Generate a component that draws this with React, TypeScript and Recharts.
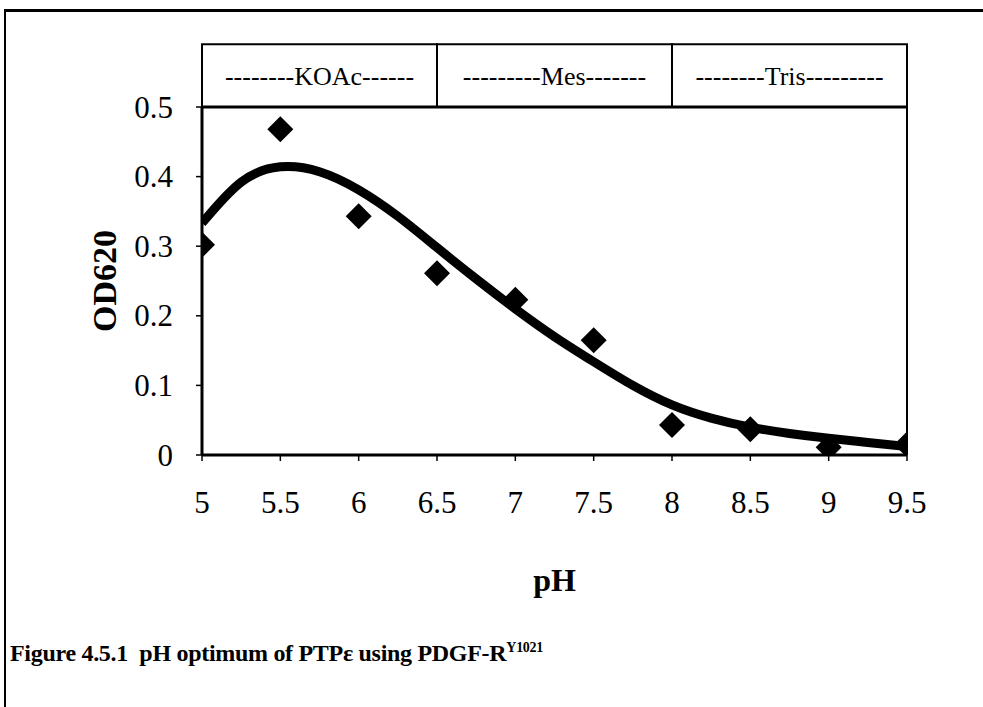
import {
  ComposedChart,
  Line,
  Scatter,
  XAxis,
  YAxis,
  ReferenceArea,
  ReferenceLine,
} from 'recharts'

// ─── Data ─────────────────────────────────────────────────────────────────────

const phTicks = [5, 5.5, 6, 6.5, 7, 7.5, 8, 8.5, 9, 9.5]
const odTicks = [0, 0.1, 0.2, 0.3, 0.4, 0.5]

// measured OD620 per pH
const measuredPh = [5, 5.5, 6, 6.5, 7, 7.5, 8, 8.5, 9, 9.5]
const measuredOd = [0.302, 0.468, 0.343, 0.261, 0.223, 0.165, 0.043, 0.037, 0.011, 0.015]

// fitted curve
const fitPh = [5, 5.25, 5.5, 5.75, 6, 6.25, 6.5, 6.75, 7, 7.25, 7.5, 7.75, 8, 8.25, 8.5, 8.75, 9, 9.25, 9.5]
const fitOd = [0.333, 0.392, 0.414, 0.407, 0.381, 0.343, 0.298, 0.253, 0.21, 0.17, 0.134, 0.1, 0.072, 0.053, 0.04, 0.031, 0.024, 0.018, 0.012]

// buffer ranges shown above the plot
const bufferLabels = ['--------KOAc------', '---------Mes-------', '--------Tris---------']
const bufferFrom = [5, 6.5, 8]
const bufferTo = [6.5, 8, 9.5]

const measured = measuredPh.map((ph, i) => ({ ph, od: measuredOd[i] }))
const fitted = fitPh.map((ph, i) => ({ ph, od: fitOd[i] }))

const SERIF = '"Liberation Serif", "Times New Roman", serif'

// ─── Shapes ───────────────────────────────────────────────────────────────────

function Diamond(props: any) {
  const { cx, cy } = props
  const r = 13
  return <path d={`M${cx},${cy - r}L${cx + r},${cy}L${cx},${cy + r}L${cx - r},${cy}Z`} fill="#000" />
}

function OdTick(props: any) {
  const { x, y, payload } = props
  return (
    <text x={x - 21} y={y} textAnchor="end" dominantBaseline="central" fontFamily={SERIF} fontSize={31} fill="#000">
      {payload.value}
    </text>
  )
}

function OdLabel(props: any) {
  const { viewBox } = props
  const x = viewBox.x + 22
  const y = viewBox.y + viewBox.height / 2
  return (
    <text
      x={x}
      y={y}
      transform={`rotate(-90, ${x}, ${y})`}
      textAnchor="middle"
      dominantBaseline="central"
      fontFamily={SERIF}
      fontWeight="bold"
      fontSize={34}
      fill="#000"
    >
      OD620
    </text>
  )
}

// ─── Component ────────────────────────────────────────────────────────────────

export default function App() {
  return (
    <div style={{ position: 'absolute', left: 0, top: 0, width: 983, height: 707, background: '#fff' }}>
      {/* outer frame: top and left edges only */}
      <div
        style={{
          position: 'absolute',
          left: 4,
          top: 9,
          width: 979,
          height: 698,
          borderTop: '3px solid #000',
          borderLeft: '2px solid #000',
        }}
      />

      <ComposedChart
        width={983}
        height={707}
        margin={{ top: 107, right: 76, bottom: 102, left: 82 }}
        style={{ position: 'absolute', left: 0, top: 0 }}
      >
        <XAxis
          dataKey="ph"
          type="number"
          domain={[5, 9.5]}
          ticks={phTicks}
          allowDataOverflow
          height={150}
          axisLine={{ stroke: '#000', strokeWidth: 3 }}
          tickLine={{ stroke: '#000', strokeWidth: 1.5 }}
          tickSize={6}
          tickMargin={30}
          tick={{ fill: '#000', fontSize: 31, fontFamily: SERIF }}
          label={{
            value: 'pH',
            position: 'insideTop',
            offset: 113,
            fill: '#000',
            fontSize: 32,
            fontWeight: 'bold',
            fontFamily: SERIF,
          }}
        />
        <YAxis
          dataKey="od"
          type="number"
          domain={[0, 0.5]}
          ticks={odTicks}
          allowDataOverflow
          width={120}
          axisLine={{ stroke: '#000', strokeWidth: 3 }}
          tickLine={{ stroke: '#000', strokeWidth: 1.5 }}
          tickSize={6}
          tick={<OdTick />}
          label={<OdLabel />}
        />

        {bufferLabels.map((name, i) => (
          <ReferenceArea
            key={name}
            x1={bufferFrom[i]}
            x2={bufferTo[i]}
            y1={0.5}
            y2={0.59}
            ifOverflow="visible"
            fill="#fff"
            fillOpacity={1}
            stroke="#000"
            strokeWidth={2}
            label={{ value: name, position: 'center', fill: '#000', fontSize: 26, fontFamily: SERIF }}
          />
        ))}

        <ReferenceLine x={9.5} stroke="#000" strokeWidth={2} ifOverflow="visible" />
        <ReferenceLine y={0.5} stroke="#000" strokeWidth={3} ifOverflow="visible" />

        <Line
          data={fitted}
          dataKey="od"
          type="natural"
          stroke="#000"
          strokeWidth={9}
          dot={false}
          activeDot={false}
          isAnimationActive={false}
        />
        <Scatter data={measured} dataKey="od" shape={<Diamond />} isAnimationActive={false} />
      </ComposedChart>

      {/* figure caption */}
      <div
        style={{
          position: 'absolute',
          left: 10,
          top: 640,
          fontFamily: SERIF,
          fontWeight: 'bold',
          fontSize: 24,
          color: '#000',
          whiteSpace: 'pre',
          letterSpacing: -0.3,
        }}
      >
        {'Figure 4.5.1  pH optimum of PTPε using PDGF-R'}
        <sup style={{ fontSize: 14, verticalAlign: 9 }}>Y1021</sup>
      </div>
    </div>
  )
}
